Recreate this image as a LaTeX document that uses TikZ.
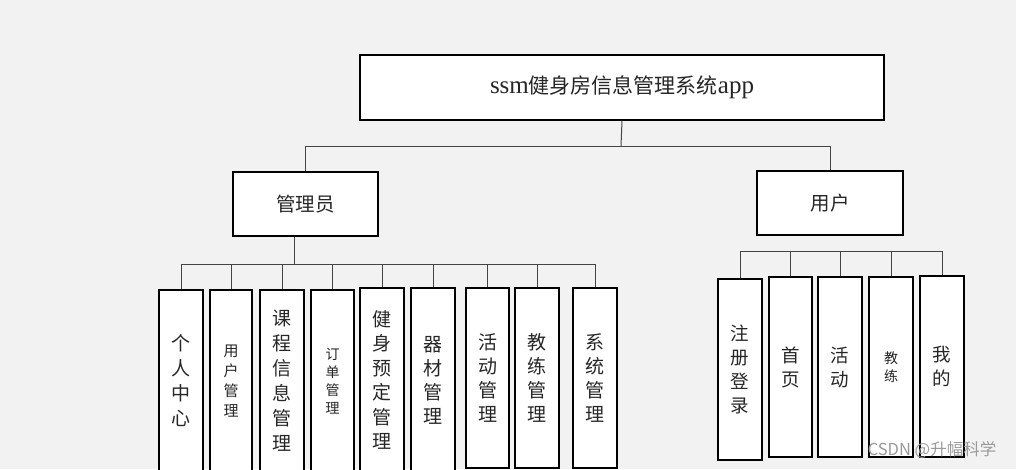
\documentclass[tikz,border=0pt]{standalone}
\usepackage{fontspec}
\newfontfamily\cjk{Noto Sans CJK SC}
\newfontfamily\lat{Liberation Serif}
\definecolor{bgc}{HTML}{F2F2F2}
\definecolor{connc}{HTML}{444444}
\definecolor{wmc}{HTML}{9A9A9A}
\tikzset{
  box/.style={draw=black, line width=1.3pt, fill=white, inner sep=0pt, align=center, text=black!85},
  conn/.style={draw=connc, line width=1pt},
  big/.style={font=\fontsize{19}{25}\selectfont\cjk},
  small/.style={font=\fontsize{15}{20}\selectfont\cjk},
  tiny/.style={font=\fontsize{14}{18}\selectfont\cjk},
}
\begin{document}
\begin{tikzpicture}[x=1pt,y=-1pt]
\fill[bgc] (0,0) rectangle (1016,469);
\useasboundingbox (0,0) rectangle (1016,469);
% top level
\node[box, minimum width=524pt, minimum height=65pt, font=\fontsize{21}{24}\selectfont\cjk] (top) at (622,87.5) {{\lat\fontsize{25}{26}\selectfont ssm}健身房信息管理系统{\lat\fontsize{25}{26}\selectfont app}};
\node[box, minimum width=145pt, minimum height=64pt, font=\fontsize{19.5}{24}\selectfont\cjk] (admin) at (305.5,204) {管理员};
\node[box, minimum width=146pt, minimum height=64pt, font=\fontsize{19.5}{24}\selectfont\cjk] (user) at (830,203) {用户};
\draw[conn] (top.south) -- (621,146) coordinate (tj);
\draw[conn] (tj) -| (admin.north);
\draw[conn] (tj) -| (user.north);
% admin children
\node[box, big, minimum width=44pt, minimum height=182pt] (a1) at (181,381) {个\\人\\中\\心};
\node[box, small, minimum width=42pt, minimum height=182pt] (a2) at (231,381) {用\\户\\管\\理};
\node[box, big, minimum width=44pt, minimum height=182pt] (a3) at (282,381) {课\\程\\信\\息\\管\\理};
\node[box, tiny, minimum width=43pt, minimum height=182pt] (a4) at (332.5,381) {订\\单\\管\\理};
\node[box, big, minimum width=44pt, minimum height=184pt, font=\fontsize{19}{24.5}\selectfont\cjk] (a5) at (382,380) {健\\身\\预\\定\\管\\理};
\node[box, big, minimum width=44pt, minimum height=184pt, font=\fontsize{19}{24}\selectfont\cjk] (a6) at (433,380) {器\\材\\管\\理};
\node[box, big, minimum width=43pt, minimum height=180pt, font=\fontsize{19}{24}\selectfont\cjk] (a7) at (487.5,378) {活\\动\\管\\理};
\node[box, big, minimum width=44pt, minimum height=180pt, font=\fontsize{19}{24}\selectfont\cjk] (a8) at (537,378) {教\\练\\管\\理};
\node[box, big, minimum width=44pt, minimum height=180pt, font=\fontsize{19}{24}\selectfont\cjk] (a9) at (595,378) {系\\统\\管\\理};
\draw[conn] ([xshift=-11.5pt]admin.south) -- (294,264) coordinate (aj);
\foreach \c in {a1,a2,a3,a4,a5,a6,a7,a8,a9} {\draw[conn] (aj) -| (\c.north);}
% user children
\node[box, font=\fontsize{18.5}{24}\selectfont\cjk, minimum width=44pt, minimum height=181pt] (u1) at (740,369.5) {注\\册\\登\\录};
\node[box, font=\fontsize{18.5}{24}\selectfont\cjk, minimum width=43pt, minimum height=180pt] (u2) at (790.5,367) {首\\页};
\node[box, font=\fontsize{18.5}{24}\selectfont\cjk, minimum width=44pt, minimum height=180pt] (u3) at (840,367) {活\\动};
\node[box, tiny, minimum width=44pt, minimum height=180pt] (u4) at (891,367) {教\\练};
\node[box, font=\fontsize{18.5}{24}\selectfont\cjk, minimum width=44pt, minimum height=181pt] (u5) at (942,366.5) {我\\的};
\coordinate (uj) at (829,251);
\foreach \c in {u1,u2,u3,u4,u5} {\draw[conn] (uj) -| (\c.north);}
% watermark
\node[text=wmc, font=\fontsize{16.5}{18}\selectfont\cjk, inner sep=0pt] (wm) at (932,450) {CSDN @升幅科学};
\end{tikzpicture}
\end{document}
